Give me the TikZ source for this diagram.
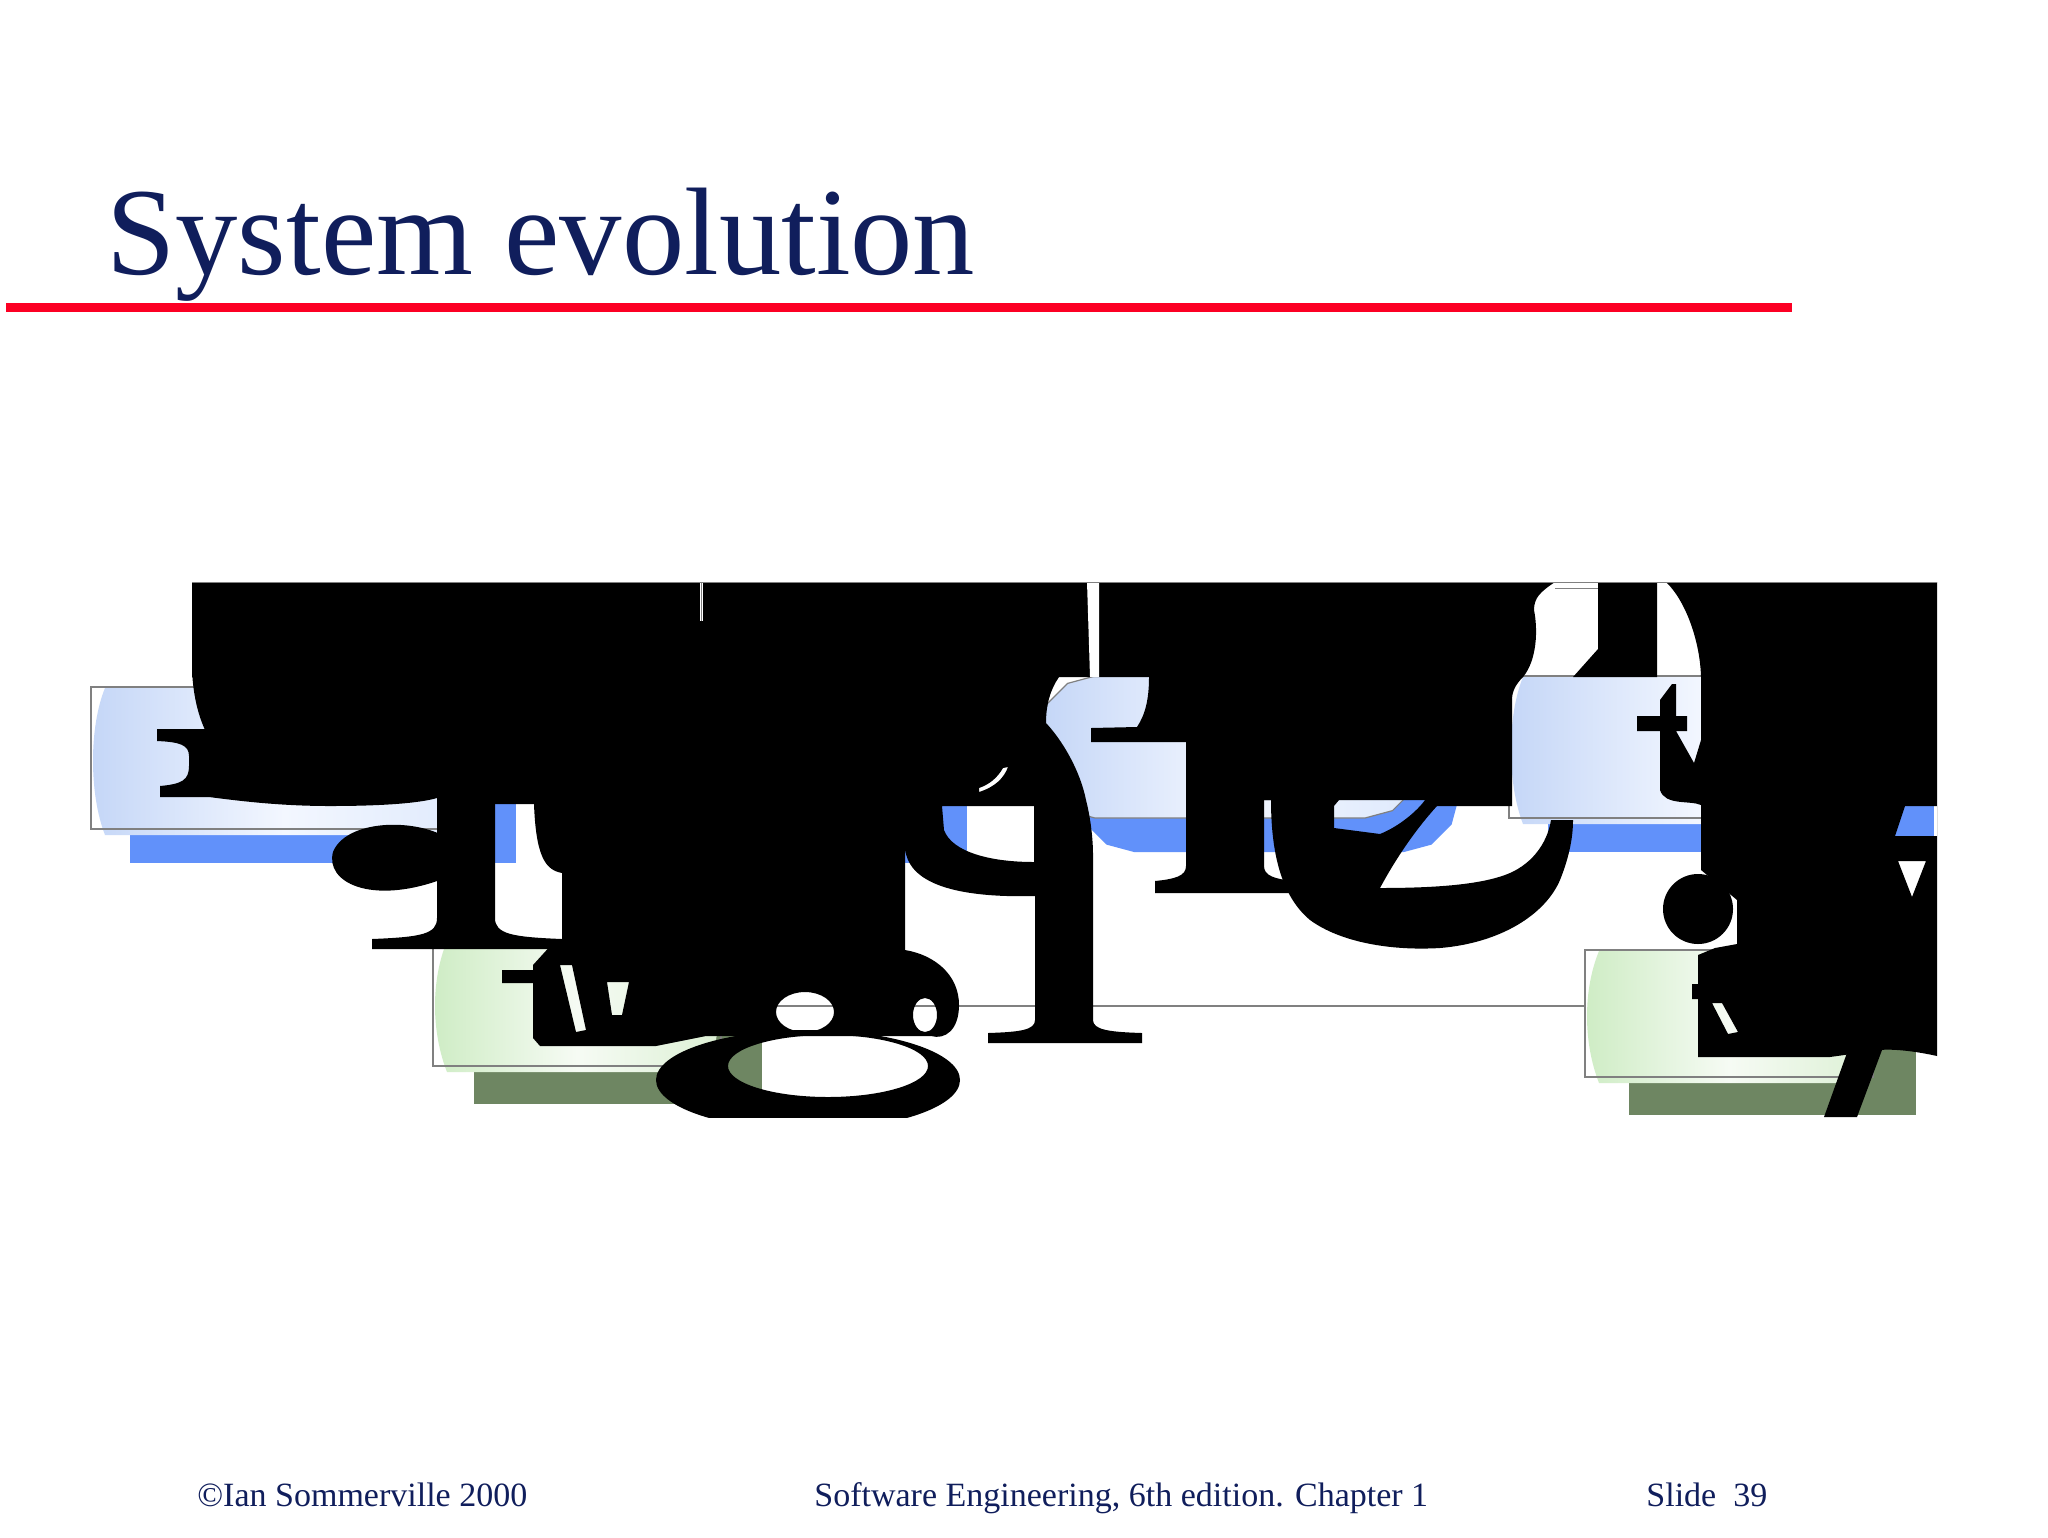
\documentclass[tikz,border=0pt]{standalone}
\usepackage{fontspec}
\setmainfont{Liberation Serif}
\definecolor{navy}{RGB}{16,30,92}
\definecolor{redline}{RGB}{252,0,36}
\definecolor{bshadow}{RGB}{97,145,250}
\definecolor{gshadow}{RGB}{110,134,98}
\definecolor{bleft}{RGB}{196,214,247}
\definecolor{bmid}{RGB}{243,247,255}
\definecolor{bright}{RGB}{222,233,252}
\definecolor{gleft}{RGB}{206,236,196}
\definecolor{gmid}{RGB}{246,251,244}
\definecolor{gright}{RGB}{220,240,212}
\definecolor{outl}{RGB}{128,128,128}
\newcommand\barrelfill[5]{\shade[#5] ({#1+14},{#2+1}) -- ({#3-14},{#2+1}) .. controls ({#3+2},{#2+40}) and ({#3+2},{#4-35}) .. ({#3-14},{#4+6}) -- ({#1+14},{#4+6}) .. controls ({#1-2},{#4-35}) and ({#1-2},{#2+40}) .. cycle;}
\newcommand\octagonpath[1]{\path[#1] (1095,676) -- (1365,676) -- (1392.5,683.4) -- (1412.6,703.5) -- (1420,731) -- (1420,763) -- (1412.6,790.5) -- (1392.5,810.6) -- (1365,818) -- (1095,818) -- (1067.5,810.6) -- (1047.4,790.5) -- (1040,763) -- (1040,731) -- (1047.4,703.5) -- (1067.5,683.4) -- cycle;}
\begin{document}
\begin{tikzpicture}[x=0.5pt,y=-0.5pt,
  boxline/.style={draw=outl, line width=0.6pt, rectangle, inner sep=0pt},
  blueshade/.style={left color=bleft, right color=bright, middle color=bmid},
  greenshade/.style={left color=gleft, right color=gright, middle color=gmid},
  ink/.style={fill=black},
  foot/.style={anchor=base west, inner sep=0pt, text=navy, font=\fontsize{17}{20}\selectfont}]
\useasboundingbox[fill=white] (0,0) rectangle (2048,1537);

% shadows
\fill[bshadow] (130,720) rectangle (516,863);
\fill[bshadow] (581,721) rectangle (967,863);
\begin{scope}[shift={(39,34)}]\octagonpath{fill=bshadow}\end{scope}
\fill[bshadow] (1548,710) rectangle (1934,852);
\fill[gshadow] (474,978) rectangle (762,1104);
\fill[gshadow] (1629,983) rectangle (1916,1115);

% fills
\barrelfill{91}{687}{477}{829}{blueshade}
\barrelfill{542}{687}{928}{829}{blueshade}
\barrelfill{1509}{676}{1895}{818}{blueshade}
\barrelfill{433}{940}{721}{1066}{greenshade}
\barrelfill{1585}{950}{1873}{1077}{greenshade}
\octagonpath{shade, blueshade}

% outlines
\node[boxline, minimum width=193pt, minimum height=71pt] (b1) at (284,758) {};
\node[boxline, minimum width=193pt, minimum height=71pt] (b2) at (735,758) {};
\octagonpath{draw=outl, line width=0.6pt}
\node[boxline, minimum width=193pt, minimum height=71pt] (b4) at (1702,747) {};
\node[boxline, minimum width=144pt, minimum height=63pt] (g1) at (577,1003) {};
\node[boxline, minimum width=144pt, minimum height=63.5pt] (g2) at (1729,1013.5) {};
\coordinate (lev) at (0,1006);
\draw[outl, line width=0.6pt] (g1.east |- lev) -- (g2.west |- lev);

% oversized black glyphs
\begin{scope}
\clip (150,582) rectangle (1937,1117);
\fill[ink] (192,582) -- (1555,582) .. controls (1540,592) and (1534,598) .. (1534,610) .. controls (1538,630) and (1537,660) .. (1523,677) -- (192,677) -- cycle;
\fill[ink] (157,729) -- (209,729) -- (209,797) -- (160,797) -- (160,786) .. controls (182,784) and (189,780) .. (189,766) -- (189,756) .. controls (189,745) and (180,742) .. (157,741) -- cycle;
\fill[ink] (192,670) .. controls (193,692) and (197,716) .. (209,738) -- (209,797) .. controls (240,801) and (280,806) .. (330,806) .. controls (384,806) and (420,803) .. (437,798) -- (437,804) -- (534,804) -- (534,670) -- cycle;
\fill[ink] (440,834) .. controls (405,818) and (345,822) .. (333,852) .. controls (325,882) and (370,905) .. (440,880) -- cycle;
\fill[ink] (437,800) -- (495,800) -- (495,918) .. controls (495,934) and (512,937) .. (562,939) -- (562,949) -- (372,949) -- (372,939) .. controls (422,937) and (437,934) .. (437,918) -- cycle;
\fill[ink, even odd rule] (534,670) -- (1059,670) -- (1059,677) .. controls (1050,690) and (1046,705) .. (1046,723) .. controls (1062,740) and (1080,770) .. (1086,800) .. controls (1091,820) and (1093,840) .. (1093,855) -- (1093,1020) .. controls (1093,1030) and (1110,1032) .. (1142,1033) -- (1142,1043) -- (988,1043) -- (988,1033) .. controls (1020,1032) and (1035,1030) .. (1035,1020) -- (1035,896) .. controls (960,898) and (905,885) .. (905,845) -- (905,950) .. controls (935,955) and (959,975) .. (959,1005) .. controls (959,1030) and (945,1040) .. (931,1036) -- (706,1036) -- (656,1046) -- (540,1046) -- (533,1038) -- (533,983) -- (502,983) -- (502,970) -- (533,970) -- (533,965) -- (553,943) -- (562,943) -- (562,873) .. controls (546,870) and (536,858) .. (534,804) -- cycle
 (942,806) -- (1034,806) -- (1034,862) .. controls (990,862) and (952,852) .. (944,830) -- cycle
 (979,792) .. controls (995,787) and (1004,778) .. (1008,767) -- (1003,768) .. controls (997,778) and (990,784) .. (979,788) -- cycle
 (560,965) -- (572,965) -- (586,1030) -- (576,1032) -- cycle
 (607,982) -- (629,982) -- (622,1015) -- (612,1015) -- cycle
 (805,1012) ellipse [x radius=14.5pt, y radius=10pt]
 (925,1015) ellipse [x radius=6pt, y radius=8.5pt];
\fill[ink, even odd rule] (808,1080) ellipse [x radius=76pt, y radius=25pt] (828,1066) ellipse [x radius=50pt, y radius=15.5pt];
\fill[ink] (1149,670) -- (1264,670) -- (1264,866) .. controls (1264,876) and (1275,879) .. (1294,881) -- (1294,893) -- (1155,893) -- (1155,881) .. controls (1175,879) and (1186,876) .. (1186,866) -- (1186,742) -- (1091,742) -- (1091,728) -- (1137,727) .. controls (1145,715) and (1149,700) .. (1149,677) -- cycle;
\fill[ink] (1260,670) -- (1523,670) -- (1523,677) .. controls (1515,685) and (1512,692) .. (1512,700) -- (1512,806) -- (1437,806) -- (1437,800) -- (1260,800) -- cycle;
\fill[ink] (1264,800) -- (1271,800) .. controls (1271,850) and (1280,895) .. (1310,920) .. controls (1340,942) and (1390,951) .. (1440,948) .. controls (1500,943) and (1545,915) .. (1560,880) .. controls (1568,860) and (1573,840) .. (1573,820) -- (1551,820) .. controls (1547,845) and (1530,866) .. (1505,875) .. controls (1480,884) and (1440,888) .. (1380,888) .. controls (1395,860) and (1415,830) .. (1437,806) -- (1437,800) -- (1425,800) .. controls (1418,810) and (1400,826) .. (1380,834) -- (1334,828) -- (1334,806) -- (1339,800) -- cycle;
\fill[ink] (1598,582) -- (1657,582) -- (1657,677) -- (1573,677) -- (1598,649) -- cycle;
\fill[ink, even odd rule] (1666,582) -- (1937,582) -- (1937,1056) .. controls (1910,1050) and (1890,1049) .. (1880,1050) -- (1830,1057) -- (1698,1057) -- (1698,999) -- (1692,999) -- (1692,984) -- (1698,984) -- (1698,955) -- (1715,948) -- (1737,944) -- (1737,900) -- (1701,870) -- (1701,677) .. controls (1700,640) and (1685,600) .. (1666,582) -- cycle
 (1898,861) -- (1926,861) -- (1912,897) -- cycle
 (1905,806) -- (1950,806) -- (1950,836) -- (1895,836) -- cycle
 (1712,1003) -- (1722,1003) -- (1738,1032) -- (1728,1034) -- cycle;
\fill[ink] (1698,909) circle [radius=17.5pt];
\fill[ink] (1660,700) -- (1672,684) -- (1676,684) -- (1676,716) -- (1687,716) -- (1687,731) -- (1676,731) -- (1694,763) -- (1701,740) -- (1701,805) .. controls (1690,800) and (1665,806) .. (1660,790) -- (1660,731) -- (1637,731) -- (1637,716) -- (1660,716) -- cycle;
\fill[ink] (1848,1050) -- (1882,1050) -- (1857,1117) -- (1824,1117) -- cycle;
\end{scope}
\fill[white] (1087,582) -- (1099,582) -- (1099,677) -- (1090,677) -- cycle;
\draw[white, line width=1.5pt] (701,582) -- (701,621);
\draw[outl, line width=0.4pt] (701,582) -- (701,621);
\draw[outl, line width=0.5pt] (192,582) -- (1937,582);
\draw[outl, line width=0.5pt] (1555,588) -- (1598,588);

% title, rule, footer
\node[anchor=base west, inner sep=0pt, text=navy, font=\fontsize{62.3}{70}\selectfont] (title) at (106,274) {System evolution};
\fill[redline] (6,302.5) rectangle (1792,311.5);
\node[foot] (f1) at (197,1506) {©Ian Sommerville 2000};
\node[foot] (f2) at (814,1506) {Software Engineering, 6th edition. Chapter 1};
\node[foot] (f3) at (1646,1506) {Slide\ \ 39};
\end{tikzpicture}
\end{document}
